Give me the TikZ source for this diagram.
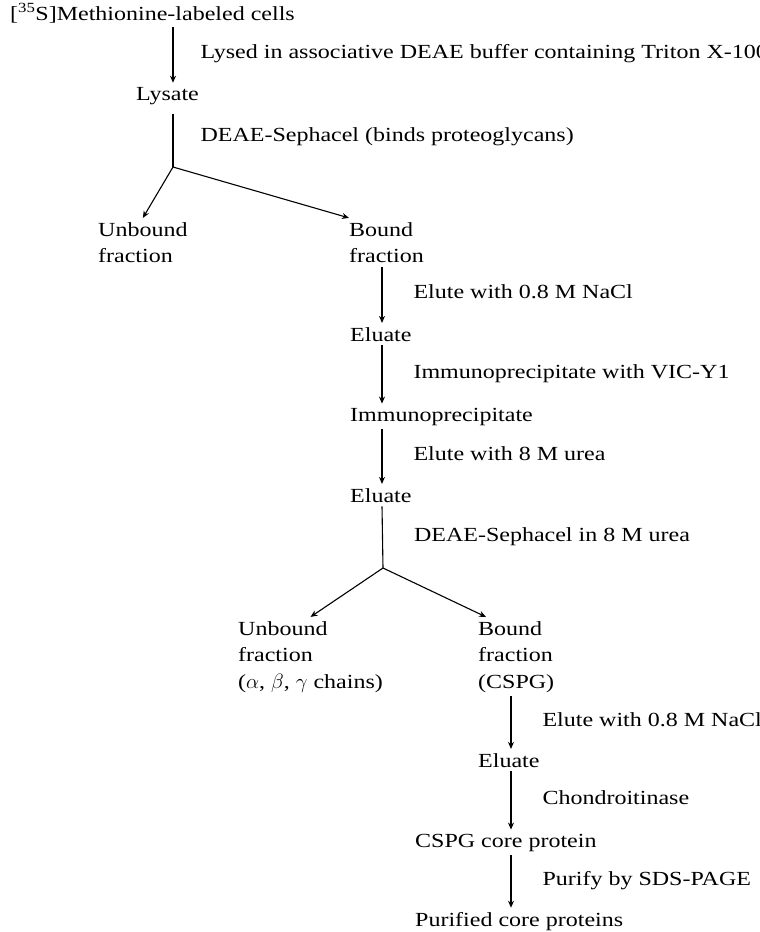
\documentclass[tikz,border=0pt]{standalone}
\usepackage{fontspec}
\setmainfont{Liberation Serif}[FakeStretch=1.2]
\usetikzlibrary{arrows.meta, positioning}

\begin{document}
\begin{tikzpicture}[
    x=1pt, y=-1pt,
    txt/.style={anchor=base west, inner xsep=0pt, inner ysep=4pt, align=left, font=\fontsize{20}{26.5}\selectfont},
    lbl/.style={anchor=base west, inner sep=0pt, xshift=#1, yshift=-4pt, font=\fontsize{20}{26.5}\selectfont},
    lbl/.default=31pt,
    arr/.style={-{Stealth[length=7pt, width=6pt]}, line width=1.1pt},
    stem/.style={line width=1.1pt}
]
    \useasboundingbox (0,0) rectangle (760,932);

    % Arrow columns and split points
    \coordinate (c1) at (173,0);
    \coordinate (c2) at (382,0);
    \coordinate (c3) at (511,0);
    \coordinate (split1) at (173,167);
    \coordinate (split2) at (383,568);

    % Nodes (multi-line ones sit on their last line)
    \node[txt] (cells) at (10,20) {[\textsuperscript{35}S]Methionine-labeled cells};
    \node[txt] (lysate) at (136,100) {Lysate};
    \node[txt] (unb1) at (98,262.5) {Unbound\\fraction};
    \node[txt] (bnd1) at (349,262.5) {Bound\\fraction};
    \node[txt] (elu1) at (350,341) {Eluate};
    \node[txt] (ip) at (350,421) {Immunoprecipitate};
    \node[txt] (elu2) at (350,502) {Eluate};
    \node[txt] (unb2) at (238,688) {Unbound\\fraction\\($\alpha$, $\beta$, $\gamma$ chains)};
    \node[txt] (bnd2) at (478,688) {Bound\\fraction\\(CSPG)};
    \node[txt] (elu3) at (478,767) {Eluate};
    \node[txt] (core) at (415,847) {CSPG core protein};
    \node[txt] (pure) at (415,926) {Purified core proteins};

    % Arrows
    \draw[arr] (cells.south -| c1) -- node[lbl=27pt] {Lysed in associative DEAE buffer containing Triton X-100} (lysate.north -| c1);
    \draw[stem, shorten <=5pt] (lysate.south -| c1) -- node[lbl=27pt] {DEAE-Sephacel (binds proteoglycans)} (split1);
    \draw[arr] (split1) -- (unb1.north);
    \draw[arr] (split1) -- (bnd1.north west);
    \draw[arr] (bnd1.south -| c2) -- node[lbl] {Elute with 0.8 M NaCl} (elu1.north -| c2);
    \draw[arr] (elu1.south -| c2) -- node[lbl] {Immunoprecipitate with VIC-Y1} (ip.north -| c2);
    \draw[arr] (ip.south -| c2) -- node[lbl] {Elute with 8 M urea} (elu2.north -| c2);
    \draw[stem] (elu2.south -| c2) -- node[lbl] {DEAE-Sephacel in 8 M urea} (split2);
    \draw[arr] (split2) -- (unb2.north);
    \draw[arr] (split2) -- ([xshift=8pt]bnd2.north west);
    \draw[arr] (bnd2.south -| c3) -- node[lbl] {Elute with 0.8 M NaCl} (elu3.north -| c3);
    \draw[arr] (elu3.south -| c3) -- node[lbl] {Chondroitinase} (core.north -| c3);
    \draw[arr] (core.south -| c3) -- node[lbl] {Purify by SDS-PAGE} (pure.north -| c3);
\end{tikzpicture}
\end{document}
